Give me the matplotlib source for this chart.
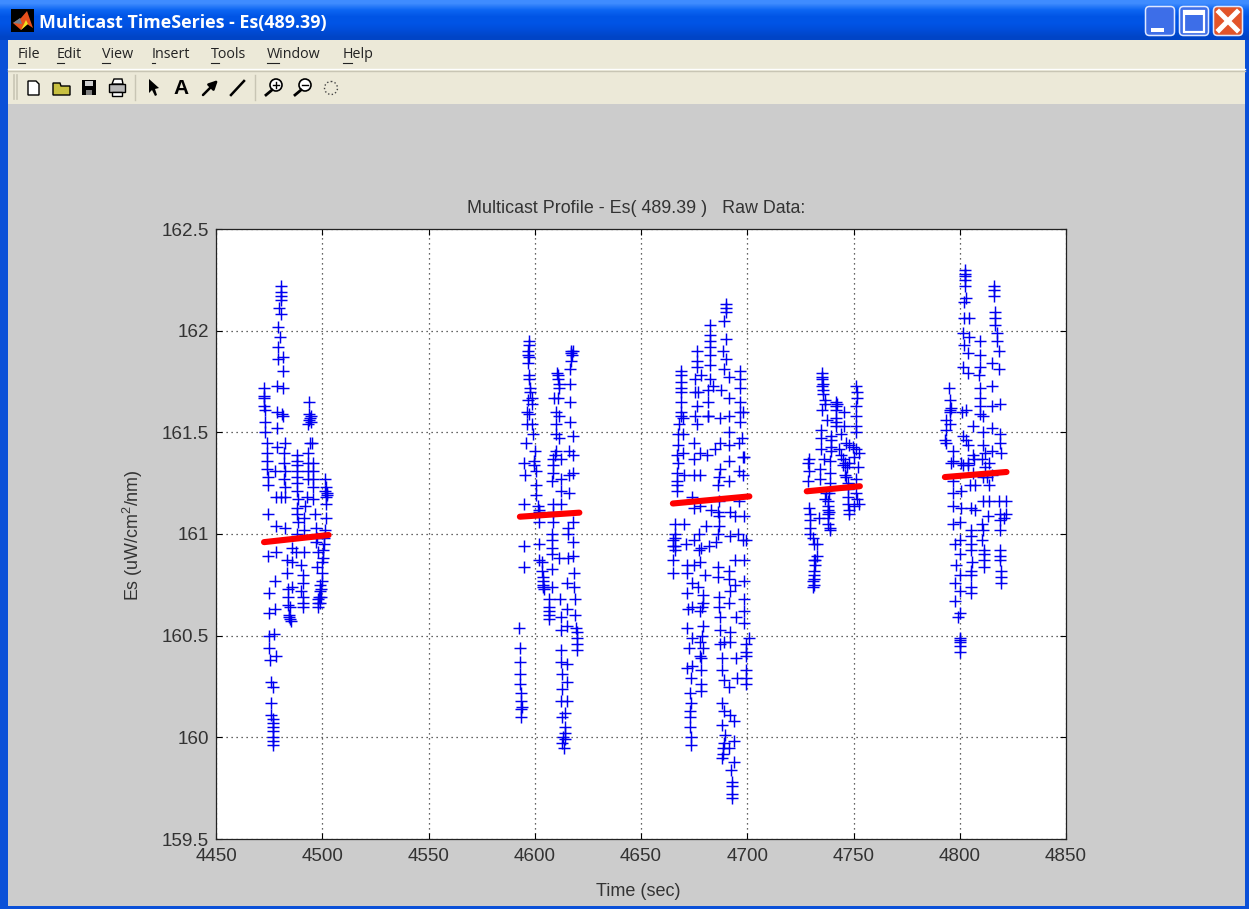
import numpy as np
import matplotlib
matplotlib.use('Agg')
import matplotlib.pyplot as plt
from matplotlib.patches import Rectangle, FancyBboxPatch, Polygon, Circle

# values: (time, Es)
burst1 = [(4472.6,161.72),(4472.6,161.68),(4472.6,161.67),(4472.6,161.63),(4473,161.61),(4473,161.55),(4473,161.50),
          (4474,161.45),(4474,161.40),(4474,161.36),(4474,161.32),(4474.5,161.28),(4474.5,161.24),(4474.5,161.10),
          (4474.5,160.89),(4475,160.71),(4475,160.61),(4475,160.50),(4475,160.44),(4475.4,160.38),(4476,160.27),
          (4476,160.17),(4476,160.11),(4477,160.09),(4477,160.07),(4477,160.05),(4477,160.03),(4477,160.00),
          (4477,159.98),(4477,159.96),
          (4476.8,160.25),(4478.2,160.40),(4477.3,160.51),(4477.8,160.63),(4477.8,160.77),(4478.2,160.91),(4478.2,161.04),
          (4478.2,161.18),(4477.8,161.31),(4478.7,161.43),(4478.7,161.52),(4481,161.59),(4478.7,161.60),(4481.5,161.72),
          (4478.7,161.73),(4481.5,161.80),(4479.2,161.86),(4481.5,161.87),(4479.2,161.92),(4480,161.97),(4479.2,162.02),
          (4480.6,162.08),(4479.6,162.11),(4480.6,162.15),(4480.6,162.17),(4480.8,162.19),(4480.6,162.22),
          (4481.5,161.58),(4482.5,161.45),(4482,161.40),(4482,161.35),(4482.5,161.31),(4482,161.27),(4482.5,161.23),
          (4482.5,161.18),(4480.6,161.18),(4482.5,161.03),(4485.8,160.93),(4483.4,160.87),(4485.8,160.86),(4483.4,160.81),
          (4485.8,160.74),(4483.9,160.73),(4483.9,160.69),(4483.9,160.65),(4484.8,160.64),(4484.4,160.60),(4484.4,160.59),
          (4484.8,160.58),(4485.3,160.57),
          (4491,160.64),(4491,160.66),(4491,160.69),(4490,160.72),(4491,160.76),(4491,160.80),(4490,160.85),(4487.6,160.91),
          (4488,161.00),(4488.5,161.06),(4488,161.10),(4488,161.13),(4488.5,161.17),(4488,161.21),(4488,161.25),(4488,161.28),
          (4488,161.31),(4488,161.34),(4488,161.36),(4488,161.39),
          (4495.6,161.17),(4492.8,161.18),(4495.6,161.23),(4493.3,161.27),(4495.6,161.27),(4493.3,161.31),(4495.6,161.31),
          (4493.3,161.35),(4495.6,161.35),(4493.3,161.40),(4494.2,161.45),(4495.2,161.45),(4493.3,161.54),(4494.7,161.55),
          (4494.2,161.57),(4493.8,161.56),(4494.7,161.58),(4493.8,161.59),(4493.8,161.65),
          (4492,161.14),(4491.5,161.08),(4491.5,161.02),(4491.5,160.91),
          (4496.6,161.10),(4497,161.03),(4497.5,160.98),(4497,160.96),(4498,160.91),(4497.5,160.84),(4498.9,160.75),
          (4498.9,160.72),(4498,160.68),(4498,160.66),(4498,160.64),(4498.4,160.69),
          (4501.3,161.27),(4501.8,161.23),(4502.3,161.20),(4501.3,161.21),(4501.8,161.18),(4502.3,161.19),(4501.8,161.15),
          (4501.8,161.08),(4501.3,161.02),(4500.8,160.98),(4500.8,160.95),(4500.4,160.92),(4500.4,160.88),(4500,160.86),
          (4500,160.81),(4500,160.77),(4499.5,160.73),(4499.5,160.69),(4499,160.66)]

burst2 = [(4592.6,160.54),(4593.1,160.44),(4593.1,160.37),(4593.1,160.31),(4593.1,160.26),(4593.6,160.22),(4593.6,160.18),
          (4594,160.15),(4593.6,160.14),(4593.6,160.10),(4595,160.94),(4595,160.84),(4596,161.45),(4595,161.35),(4595.5,161.29),
          (4595,161.15),
          (4597.3,161.95),(4597.3,161.93),(4597,161.90),(4597,161.88),(4597.3,161.87),(4597,161.84),(4597.3,161.78),(4597.3,161.76),
          (4597.8,161.72),(4597.8,161.70),(4597,161.66),(4598.7,161.67),(4598.7,161.64),(4596.5,161.60),(4597.3,161.59),
          (4596.5,161.54),(4598.7,161.54),(4599.3,161.49),
          (4600.3,161.41),(4599.8,161.36),(4599.8,161.34),(4600.8,161.31),(4600.8,161.24),(4600.8,161.19),(4601.3,161.14),
          (4601.8,161.12),(4602.1,161.11),(4602.1,161.06),(4602.1,160.95),(4602.1,160.87),(4603.3,160.86),(4603.3,160.82),
          (4603.7,160.79),(4603.7,160.77),(4603.7,160.75),(4603.7,160.74),(4604.3,160.73),(4606.7,160.68),(4606.7,160.64),
          (4606.7,160.62),(4606.7,160.60),(4606.7,160.58),
          (4608,161.00),(4608,160.97),(4608,160.93),(4608,160.90),(4608,160.83),(4608,160.74),(4608.4,161.06),
          (4608.8,161.11),(4608,161.26),(4608.8,161.30),(4608.8,161.34),(4608.8,161.37),(4609.4,161.39),(4609.8,161.41),
          (4612.4,161.37),(4612.2,161.27),(4608.4,161.15),(4612.4,161.15),(4612.4,161.21),(4609.8,161.49),(4611.4,161.47),(4609.8,161.54),
          (4611.4,161.58),(4609.8,161.60),(4610.8,161.67),(4609.2,161.67),(4611.4,161.72),(4611.4,161.74),(4610.8,161.76),
          (4610.8,161.78),(4610.4,161.79),
          (4617,161.90),(4617,161.89),(4617.6,161.88),(4618,161.90),(4617,161.85),(4616.4,161.81),(4616.4,161.74),(4616.4,161.65),
          (4616.4,161.55),(4617.8,161.48),(4616,161.41),(4617.8,161.39),(4617.8,161.30),(4616,161.29),(4616,161.20),
          (4618.2,161.06),(4615.6,161.00),(4615.6,161.03),(4618.2,160.96),(4618.2,160.89),(4615.6,160.88),(4611.4,160.88),
          (4618.6,160.81),(4618.6,160.74),(4615.2,160.76),(4619,160.68),(4612,160.68),(4615,160.63),(4612.4,160.59),
          (4619,160.60),(4619.4,160.54),(4620,160.52),(4620,160.49),(4620,160.46),(4620,160.43),(4612.4,160.53),(4615,160.55),
          (4612.4,160.43),(4612.4,160.37),(4615,160.36),(4613,160.31),(4615,160.27),(4612.8,160.24),(4612.4,160.18),
          (4615,160.18),(4613,160.10),(4614.4,160.12),(4614,160.05),(4614,160.02),(4614,159.99),(4613.4,160.00),(4613,159.97),
          (4613.6,159.95)]

burst3 = [(4668.6,161.80),(4668.6,161.78),(4668.6,161.75),(4668.6,161.72),(4668.6,161.70),(4668.6,161.65),(4668.6,161.60),
          (4669,161.58),(4669.6,161.57),(4667.8,161.54),(4667.4,161.49),(4669.6,161.49),(4667.4,161.44),(4666.8,161.39),
          (4669.6,161.40),(4667.4,161.35),(4666.8,161.30),(4670.2,161.29),(4666.8,161.26),(4666.8,161.24),(4666.8,161.21),
          (4666,161.05),(4665.8,161.00),(4665.8,160.98),(4665.8,160.94),(4665.8,160.92),(4665,160.97),(4665,160.94),(4665,160.87),
          (4665,160.81),(4670,161.05),
          (4673.6,159.96),(4673.6,160.00),(4673,160.05),(4673,160.10),(4673,160.13),(4673.6,160.17),(4673,160.22),(4673.6,160.29),
          (4671.6,160.34),(4674.2,160.35),(4672.6,160.44),(4674.2,160.49),(4671.6,160.54),(4672.2,160.63),(4674.2,160.64),
          (4671.6,160.71),(4674.2,160.76),(4671.6,160.81),(4671.6,160.85),(4675,160.85),(4671,160.95),(4675,160.97),
          (4677.6,161.14),(4675,161.13),(4674.2,161.18),(4675,161.29),(4677.6,161.29),(4675,161.37),(4677.6,161.40),(4675,161.45),
          (4676.4,161.54),(4675.5,161.58),(4681.5,161.58),(4676.4,161.63),(4675.5,161.70),(4676.8,161.70),(4675.5,161.76),
          (4678,161.78),(4676.4,161.82),(4676.4,161.85),(4676.4,161.90),
          (4682.6,162.03),(4682.6,161.98),(4682.6,161.95),(4682.6,161.92),(4682.6,161.88),(4682.6,161.83),(4682.6,161.76),
          (4684,161.73),(4681.6,161.71),(4681.6,161.65),(4681.6,161.58),(4685,161.42),(4681,161.39),(4686.6,161.28),
          (4683,161.12),(4686,161.11),(4680.4,161.04),(4677.2,161.00),(4685.4,160.96),(4677.2,160.92),(4678,160.93),
          (4682,160.94),(4677.6,160.86),(4686.4,160.84),(4680,160.80),(4686.4,160.79),(4677,160.74),(4691.4,160.78),(4679,160.70),
          (4686.6,160.69),(4679,160.66),(4686.6,160.64),(4691.4,160.66),(4677.6,160.62),(4678.6,160.64),(4687,160.59),
          (4679,160.55),(4687,160.53),(4692,160.52),(4677.6,160.47),(4678.6,160.50),(4687,160.46),(4689,160.47),(4679,160.44),
          (4677.6,160.40),(4678,160.39),(4688,160.39),(4678,160.33),(4688,160.33),(4678,160.26),(4678,160.23),(4689,160.28),
          (4691.4,160.25),(4688,160.17),(4689,160.13),(4692,160.11),(4693.6,160.08),(4688,160.06),(4689.6,160.01),(4689,159.97),
          (4688.4,159.95),(4688.4,159.92),(4688,159.90),(4691.6,159.95),(4693.6,159.98),(4693.6,159.88),(4692.4,159.84),(4693,159.78),
          (4693,159.76),(4693,159.72),(4692.6,159.70)]
burst3b = [(4689.8,162.13),(4689.8,162.11),(4689.8,162.09),(4689,162.05),(4689.8,161.96),(4688.6,161.90),(4690,161.86),
           (4689,161.81),(4691.6,161.77),(4687.6,161.71),(4691.6,161.67),(4691.4,161.58),(4687,161.57),(4691.6,161.50),
           (4687,161.45),(4691.6,161.44),(4691.6,161.36),(4687,161.32),(4691.6,161.26),(4686,161.24),(4686.6,161.16),
           (4692,161.11),(4686.6,161.09),(4686.6,161.04),(4692,160.99),(4686,161.00),
           (4696.6,161.80),(4696.6,161.76),(4696.6,161.72),(4696.6,161.65),(4698.2,161.60),(4696.6,161.60),(4696.6,161.55),(4696.2,161.45),
           (4697.6,161.47),(4698.2,161.38),(4698.6,161.38),(4696.2,161.31),(4698.2,161.29),(4696.2,161.16),(4694.2,161.09),
           (4698.6,161.09),(4695.6,161.00),(4699.2,160.97),(4698,160.97),(4694.2,160.87),(4698.6,160.87),(4691.4,160.82),(4694.2,160.75),
           (4698.6,160.77),(4698.6,160.68),(4692,160.72),(4698.6,160.62),(4694.6,160.59),(4698.6,160.56),(4700.6,160.49),(4699.2,160.46),
           (4699.2,160.42),(4699.2,160.40),(4699.2,160.33),(4699.2,160.29),(4699.2,160.26),(4695.2,160.29),(4692,160.47),
           (4694.6,160.39)]

burst4 = [(4729,161.37),(4728.6,161.35),(4729,161.31),(4728.6,161.26),(4729,161.13),(4729.6,161.10),(4729.6,161.07),
          (4729.6,161.03),(4729.6,161.00),(4731,160.98),(4731.6,160.95),(4733,160.95),(4733,160.89),(4731.6,160.87),
          (4732,160.85),(4731.6,160.82),(4731.2,160.80),(4731.2,160.78),(4730.8,160.77),(4731.2,160.75),(4732,160.87),
          (4730.8,160.74),
          (4734,161.27),(4734,161.32),(4736,161.37),(4734.6,161.42),(4734.6,161.47),(4734.6,161.51),(4737.4,161.56),
          (4735.4,161.61),(4736.8,161.64),(4736.8,161.66),(4735.6,161.69),(4735.6,161.71),(4735.6,161.74),(4735.4,161.76),
          (4735.2,161.77),(4735.2,161.79),(4735,161.73),
          (4741.6,161.65),(4741.6,161.63),(4741.6,161.61),(4741.6,161.57),(4741.6,161.55),(4741.6,161.53),(4742,161.64),
          (4739.6,161.48),(4739.6,161.46),(4739.6,161.43),(4739.6,161.41),(4739,161.36),(4739,161.30),(4738.8,161.25),
          (4737,161.20),(4738.4,161.20),(4736.6,161.17),(4738,161.16),(4738,161.14),(4738,161.12),(4738,161.10),(4738,161.08),
          (4738,161.05),(4738.8,161.02),(4733.6,161.08),(4738.6,161.11),(4739,161.03),
          (4743,161.42),(4744,161.39),(4745,161.37),(4746,161.35),(4745,161.34),(4747,161.33),(4746,161.29),(4745.4,161.60),
          (4745.4,161.53),(4744,161.49),(4746.6,161.45),(4748,161.44),(4748,161.35),(4746.6,161.28),(4747.6,161.25),
          (4747.6,161.22),(4747.4,161.18),(4747.4,161.15),(4747.8,161.12),(4748,161.10),(4750,161.14),(4751,161.73),(4751.8,161.70),
          (4751.8,161.67),(4751,161.63),(4751,161.58),(4751,161.53),(4751,161.50),(4749.6,161.43),(4750,161.38),(4751,161.42),
          (4752.4,161.40),(4752,161.33),(4751.4,161.27),(4751,161.20),(4751.6,161.17),(4752.4,161.15)]

burst5 = [(4802.6,162.30),(4802.6,162.28),(4802.6,162.27),(4802.6,162.25),(4802.6,162.22),(4803,162.16),(4802,162.14),
          (4802,162.06),(4804.4,162.06),(4801.4,161.99),(4804.4,161.97),(4801.8,161.93),(4803.8,161.89),(4801.4,161.82),
          (4803.8,161.79),(4795,161.72),(4795.4,161.66),(4795.6,161.60),(4795.6,161.61),(4796,161.62),(4793.4,161.56),(4795.4,161.54),
          (4793.4,161.51),(4793,161.46),(4793.6,161.45),(4797,161.41),(4801.4,161.48),(4804,161.44),(4796,161.35),
          (4801.4,161.34),(4804,161.34),
          (4809.5,161.95),(4809.5,161.88),(4809.5,161.82),(4809,161.78),(4809.5,161.72),(4809.5,161.67),(4809.5,161.63),
          (4809.5,161.59),(4803,161.61),(4801,161.60),(4811,161.58),(4806,161.53),(4811,161.50),(4803,161.46),(4811,161.44),
          (4806,161.39),(4812,161.40),(4812,161.33),(4806,161.30),(4813,161.28),(4815,161.29),
          (4816.2,162.22),(4816.2,162.20),(4816.2,162.17),(4816.6,162.09),(4816.6,162.06),(4816.6,162.03),(4817.4,161.99),
          (4817.4,161.95),(4818.6,161.90),(4815,161.84),(4818.6,161.81),(4815,161.73),(4815,161.63),(4818.8,161.64),
          (4815,161.52),(4818.8,161.49),(4819,161.45),(4815,161.41),(4819.6,161.40),
          (4797,161.36),(4800.6,161.35),(4803.8,161.35),(4806.6,161.37),(4810.6,161.37),(4813.6,161.35),(4810.8,161.28),(4797,161.26),
          (4800.6,161.21),(4797,161.20),(4805,161.24),(4807,161.24),(4813.6,161.24),(4797,161.14),(4800.6,161.13),(4805.4,161.13),
          (4807,161.12),(4811,161.16),(4813.6,161.16),(4818.4,161.16),(4821.6,161.16),(4813.4,161.09),(4818.8,161.10),
          (4821.6,161.10),(4800,161.06),(4797,161.05),(4805.4,161.02),(4810.6,161.05),(4811,161.02),(4819,161.07),(4821,161.08),
          (4819,161.02),(4805.4,160.99),(4800,160.97),(4797.8,160.95),(4805.4,160.95),(4810.6,160.97),(4811.6,160.92),
          (4800,160.90),(4805.4,160.92),(4811.6,160.90),(4811.6,160.87),(4811.6,160.84),(4819,160.92),(4819,160.89),(4819,160.87),
          (4805.8,160.86),(4798,160.85),(4800,160.80),(4805.4,160.82),(4797.8,160.76),(4805.4,160.80),(4819.6,160.82),
          (4819.6,160.79),(4819.6,160.76),(4800,160.72),(4805.4,160.74),(4805.4,160.71),(4797.8,160.67),(4800,160.61),
          (4799,160.59),(4800,160.49),(4800,160.48),(4800,160.47),(4800,160.45),(4800,160.42)]

# red trend pieces, start and end of each
red_t = [[4472.6, 4503], [4593, 4621], [4665, 4701], [4728, 4753], [4793, 4822]]
red_es = [[160.96, 160.995], [161.085, 161.105], [161.15, 161.185], [161.21, 161.235], [161.28, 161.305]]

xticks = [4450, 4500, 4550, 4600, 4650, 4700, 4750, 4800, 4850]
yticks = [159.5, 160, 160.5, 161, 161.5, 162, 162.5]
yticklabels = ['159.5', '160', '160.5', '161', '161.5', '162', '162.5']
menus = ['File', 'Edit', 'View', 'Insert', 'Tools', 'Window', 'Help']
menu_x = [18, 57, 102, 152, 211, 267, 343]
menu_ul = [(18, 25), (57, 64), (102, 110), (152, 155), (211, 219), (267, 279), (343, 352)]

W, H = 1249, 909
plt.rcParams['font.family'] = ['Liberation Sans', 'DejaVu Sans']
plt.rcParams['mathtext.default'] = 'regular'
fig = plt.figure(figsize=(W/100, H/100), dpi=100)
fig.patch.set_facecolor('#cccccc')

# window frame, in screen pixels
bg = fig.add_axes([0, 0, 1, 1])
bg.axis('off')
grad = np.array([[0.25, 0.55, 1.0], [0.05, 0.40, 0.95], [0.0, 0.33, 0.90], [0.0, 0.33, 0.90], [0.0, 0.30, 0.85], [0.0, 0.27, 0.78]])
bg.imshow(grad[:, None, :], extent=[0, W, 40, 0], aspect='auto', interpolation='bilinear', zorder=1)
bg.set_xlim(0, W)
bg.set_ylim(H, 0)
bg.add_patch(Rectangle((0, 40), 8, H-40, fc='#0a50d8', ec='none', zorder=1))
bg.add_patch(Rectangle((1245, 40), 4, H-40, fc='#0a50d8', ec='none', zorder=1))
bg.add_patch(Rectangle((0, 906), W, 3, fc='#0a50d8', ec='none', zorder=1))
bg.add_patch(Rectangle((8, 40), 1237, 64, fc='#ece9d8', ec='none', zorder=1))
bg.plot([8, 1245], [69, 69], color='#ffffff', lw=1, zorder=2)
bg.plot([8, 1245], [70.5, 70.5], color='#c8c5b4', lw=1, zorder=2)

# title bar
bg.add_patch(Rectangle((11, 9), 23, 23, fc='black', ec='none', zorder=2))
bg.add_patch(Polygon([[13, 23], [21, 18], [27, 11], [33, 28], [27, 24], [21, 30]], fc='#e8501c', ec='none', zorder=3))
bg.add_patch(Polygon([[13, 23], [20, 18], [22, 24]], fc='#708090', ec='none', zorder=3))
bg.add_patch(Polygon([[21, 30], [26, 20], [28, 24]], fc='#f0e020', ec='none', zorder=3))
bg.text(39, 23, 'Multicast TimeSeries - Es(489.39)', color='white', family='Open Sans', weight='bold', fontsize=12.9, va='center', ha='left', zorder=3)

for x0, col in zip([1145, 1179, 1213], ['#3d6ee8', '#3d6ee8', '#e2542a']):
    bg.add_patch(FancyBboxPatch((x0+0.5, 6.5), 29, 29, boxstyle='round,pad=0,rounding_size=4', fc=col, ec='#dfe8ff', lw=1.1, zorder=2))
bg.add_patch(Rectangle((1151, 28), 13, 4, fc='white', ec='none', zorder=3))
bg.add_patch(Rectangle((1184, 11), 20, 21, fc='none', ec='white', lw=1.6, zorder=3))
bg.add_patch(Rectangle((1184, 11), 20, 4, fc='white', ec='none', zorder=3))
bg.plot([1219, 1237], [12, 30], color='white', lw=3.6, zorder=3)
bg.plot([1219, 1237], [30, 12], color='white', lw=3.6, zorder=3)

# menu
for name, mx, ul in zip(menus, menu_x, menu_ul):
    bg.text(mx, 55, name, color='#222222', family='Open Sans', fontsize=10.3, va='center', ha='left', zorder=3)
    bg.plot(ul, [63, 63], color='#222222', lw=0.8, zorder=3)

# toolbar
for x0 in [14, 17]:
    bg.plot([x0, x0], [75, 99], color='#c8c5b4', lw=1.2, zorder=3)
for x0 in [135, 255]:
    bg.plot([x0, x0], [75, 100], color='#c8c5b4', lw=1, zorder=3)
bg.add_patch(Polygon([[28, 81], [36, 81], [39, 84], [39, 95], [28, 95]], fc='white', ec='black', lw=1, zorder=3))
bg.add_patch(Polygon([[53, 83], [60, 83], [61, 86], [70, 86], [70, 95], [53, 95]], fc='#c8c040', ec='black', lw=1, zorder=3))
bg.add_patch(Rectangle((82, 80), 14, 15, fc='black', ec='none', zorder=3))
bg.add_patch(Rectangle((85, 81), 8, 5, fc='#cfcfcf', ec='none', zorder=4))
bg.add_patch(Rectangle((86, 90), 6, 5, fc='#808080', ec='none', zorder=4))
bg.add_patch(Rectangle((109, 84), 16, 8, fc='#b8b8b8', ec='black', lw=1, zorder=3))
bg.add_patch(Polygon([[112, 84], [114, 79], [122, 79], [123, 84]], fc='white', ec='black', lw=1, zorder=3))
bg.add_patch(Rectangle((112, 92), 10, 4, fc='white', ec='black', lw=1, zorder=3))
bg.add_patch(Polygon([[149, 79], [149, 93], [152, 90], [155, 96], [157, 95], [155, 89], [159, 88]], fc='black', ec='none', zorder=3))
bg.text(181, 88, 'A', color='black', fontsize=15, family='Liberation Sans', weight='bold', va='center', ha='center', zorder=3)
bg.annotate('', xy=(218, 80), xytext=(203, 95), arrowprops=dict(arrowstyle='-|>', color='black', lw=1.8, shrinkA=0, shrinkB=0, mutation_scale=13), zorder=3)
bg.plot([231, 244], [95, 81], color='black', lw=1.8, zorder=3)
for cx, sign in [(276, '+'), (305, '-')]:
    bg.add_patch(Circle((cx, 85), 6, fc='#ffffff', ec='black', lw=1.2, zorder=3))
    bg.plot([cx-4, cx-10], [90, 95], color='black', lw=2, zorder=3)
    bg.plot([cx-3, cx+3], [85, 85], color='black', lw=1, zorder=4)
    if sign == '+':
        bg.plot([cx, cx], [82, 88], color='black', lw=1, zorder=4)
bg.add_patch(Circle((331, 88), 6.5, fc='none', ec='#444444', lw=1, ls=':', zorder=3))

# the plot
ax = fig.add_axes([216/W, 1-839/H, 850/W, 610/H])
ax.set_facecolor('white')
for data in [burst1, burst2, burst3, burst3b, burst4, burst5]:
    pts = np.array(data)
    ax.plot(pts[:, 0], pts[:, 1], '+', color='#0000f0', ms=9, mew=1.05, zorder=3)
for t, es in zip(red_t, red_es):
    ax.plot(t, es, '-', color='#ff0000', lw=4.4, solid_capstyle='round', zorder=4)

ax.set_xlim(4450, 4850)
ax.set_ylim(159.5, 162.5)
ax.set_xticks(xticks)
ax.set_yticks(yticks)
ax.set_yticklabels(yticklabels)
ax.grid(True, color='#333333', ls=(0, (1, 3)), lw=0.9)
ax.set_axisbelow(True)
ax.tick_params(direction='in', top=True, right=True, length=4.5, width=0.8, labelsize=13.6, labelcolor='#333333')
ax.tick_params(axis='x', pad=6.5)
ax.tick_params(axis='y', pad=5)
for sp in ax.spines.values():
    sp.set_linewidth(0.9)
    sp.set_color('#222222')

fig.text(636/W, 1-209/H, 'Multicast Profile - Es( 489.39 )   Raw Data:', ha='center', va='center', fontsize=12.9, color='#333333')
fig.text(638/W, 1-891/H, 'Time (sec)', ha='center', va='center', fontsize=13, color='#333333')
fig.text(133/W, 1-535/H, 'Es (uW/cm$^2$/nm)', ha='center', va='center', rotation=90, fontsize=12.9, color='#333333')

fig.savefig('out.png', dpi=100, facecolor=fig.get_facecolor())
